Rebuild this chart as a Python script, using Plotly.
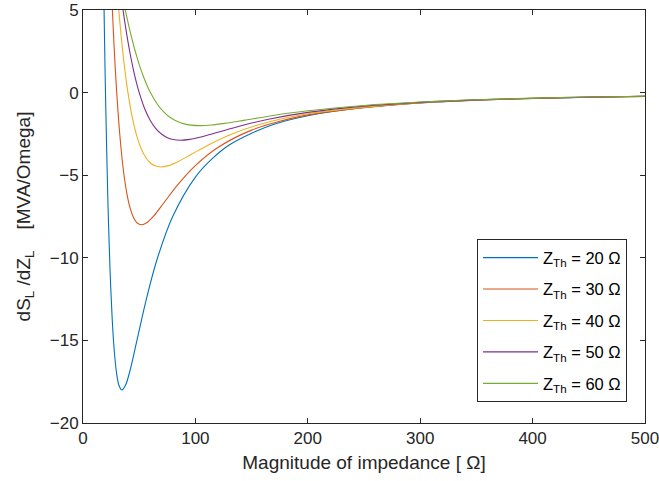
import plotly.graph_objects as go

# Values (x: |Z_L| in ohm, y: dS_L/dZ_L in MVA/ohm)
x_20 = [18, 19, 20, 22, 24, 26, 28, 30, 32, 34.64, 38, 42, 48, 56, 66, 80, 100, 115, 130, 150, 170,
        200, 250, 300, 350, 400, 450, 500]
y_20 = [8.352, 3.879, 0, -6.192, -10.642, -13.731, -15.778, -17.041, -17.725, -18.0, -17.685,
        -16.777, -15.0, -12.604, -10.074, -7.474, -5.112, -4.0, -3.175, -2.46, -1.912,
        -1.3975, -0.9041, -0.6315, -0.4656, -0.3573, -0.2828, -0.2293]

x_30 = [25.5, 27, 28.5, 30, 33, 36, 39, 42, 45, 48, 51.96, 57, 63, 72, 84, 99, 120, 150, 175,
        200, 250, 300, 350, 400, 450, 500]
y_30 = [5.986, 3.712, 1.724, 0, -2.752, -4.730, -6.103, -7.012, -7.574, -7.878, -8.0, -7.860,
        -7.457, -6.666, -5.602, -4.477, -3.322, -2.272, -1.74,
        -1.3463, -0.9083, -0.6211, -0.4600, -0.3540, -0.2807, -0.2279]

x_40 = [31.2, 34, 36, 38, 40, 44, 48, 52, 56, 60, 64, 69.28, 76, 84, 96, 112, 132, 160,
        200, 250, 300, 350, 400, 450, 500]
y_40 = [5.450, 3.367, 2.088, 0.970, 0, -1.548, -2.661, -3.433, -3.944, -4.260, -4.431, -4.5,
        -4.421, -4.194, -3.750, -3.151, -2.518, -1.869,
        -1.2781, -0.8810, -0.6069, -0.4522, -0.3494, -0.2778, -0.2260]

x_50 = [35, 37.5, 40, 42.5, 45, 47.5, 50, 55, 60, 65, 70, 75, 80, 86.6, 95, 105, 120, 140, 165,
        200, 250, 300, 350, 400, 450, 500]
y_50 = [5.293, 4.129, 3.084, 2.155, 1.336, 0.621, 0, -0.991, -1.703, -2.197, -2.524, -2.727,
        -2.836, -2.88, -2.830, -2.684, -2.400, -2.017, -1.612,
        -1.1959, -0.8180, -0.5890, -0.4424, -0.3436, -0.2741, -0.2236]

x_60 = [36, 39, 42, 45, 48, 51, 54, 57, 60, 66, 72, 78, 84, 90, 96, 103.92, 114, 126, 144, 168,
        200, 250, 300, 350, 400, 450, 500]
y_60 = [5.536, 4.566, 3.676, 2.867, 2.142, 1.496, 0.928, 0.431, 0, -0.688, -1.182, -1.526,
        -1.753, -1.893, -1.969, -2.0, -1.965, -1.864, -1.667, -1.400,
        -1.1029, -0.7765, -0.5681, -0.4307, -0.3366, -0.2697, -0.2207]

names = ["Z<sub>Th</sub> = 20 Ω", "Z<sub>Th</sub> = 30 Ω", "Z<sub>Th</sub> = 40 Ω",
         "Z<sub>Th</sub> = 50 Ω", "Z<sub>Th</sub> = 60 Ω"]
colors = ["#0072BD", "#D95319", "#EDB120", "#7E2F8E", "#77AC30"]
series = [(x_20, y_20), (x_30, y_30), (x_40, y_40), (x_50, y_50), (x_60, y_60)]

x_ticks = [0, 100, 200, 300, 400, 500]
y_ticks = [-20, -15, -10, -5, 0, 5]

fig = go.Figure()
for i, ((xs, ys), nm, c) in enumerate(zip(series, names, colors)):
    fig.add_trace(go.Scatter(x=xs, y=ys, mode="lines", name=nm, legendgroup=f"g{i}",
                             line=dict(color=c, width=1.1, shape="spline", smoothing=0.9)))

axis_common = dict(showline=True, linecolor="#262626", linewidth=1, mirror="ticks",
                   ticks="inside", ticklen=5, tickcolor="#262626", showgrid=False,
                   zeroline=False, automargin=False, ticklabeloverflow="allow",
                   tickfont=dict(size=17, color="#262626"))

nb = "\u00a0"
fig.update_layout(
    width=659, height=481,
    margin=dict(l=83, r=14, t=10, b=58),
    paper_bgcolor="white", plot_bgcolor="white",
    font=dict(family="Liberation Sans, Arial, sans-serif", color="#262626"),
    xaxis=dict(range=[0, 500], tickvals=x_ticks,
               title=dict(text="Magnitude of impedance [ Ω]", font=dict(size=19), standoff=8),
               **axis_common),
    yaxis=dict(range=[-20, 5], tickvals=y_ticks,
               title=dict(text="dS<sub>L</sub>" + nb + "/dZ<sub>L</sub>" + nb * 4 + "[MVA/Omega]",
                          font=dict(size=19), standoff=14),
               **axis_common),
    legend=dict(x=0.968, y=0.05, xanchor="right", yanchor="bottom",
                bordercolor="#262626", borderwidth=1, bgcolor="white",
                font=dict(size=16.5, color="#000000"), itemwidth=55,
                traceorder="grouped", tracegroupgap=7),
    showlegend=True,
)

fig.write_html("out.html")
